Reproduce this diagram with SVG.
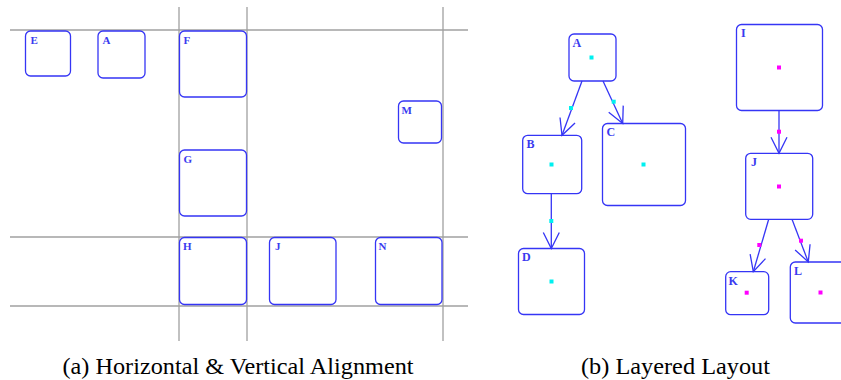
<svg xmlns="http://www.w3.org/2000/svg" width="841" height="380" viewBox="0 0 841 380">
<style>
.grid{stroke:#a0a0a0;stroke-width:1.3;fill:none}
.node{fill:#fff;stroke:#3535f5;stroke-width:1.3}
.lbl{font-family:"Liberation Serif",serif;font-weight:bold;fill:#3a3af0}
.la{font-size:11px}
.lb{font-size:12px}
.edge{stroke:#3535f5;stroke-width:1.3;fill:none;marker-end:url(#arr)}
.cy{fill:#00f0f0}
.mg{fill:#ff00ff}
.cap{font-family:"Liberation Serif",serif;font-size:23px;fill:#000}
</style>
<defs>
<marker id="arr" markerUnits="userSpaceOnUse" markerWidth="20" markerHeight="20" viewBox="-17 -10 19 20" refX="0" refY="0" orient="auto" overflow="visible">
<path d="M-16,-8 L0,0 L-16,8" fill="none" stroke="#3535f5" stroke-width="1.3"/>
</marker>
</defs>
<rect width="841" height="380" fill="#fff"/>
<g id="grid">
<line class="grid" x1="10" y1="30" x2="468" y2="30"/>
<line class="grid" x1="10" y1="237" x2="468" y2="237"/>
<line class="grid" x1="10" y1="306" x2="468" y2="306"/>
<line class="grid" x1="179" y1="7" x2="179" y2="341"/>
<line class="grid" x1="247" y1="7" x2="247" y2="341"/>
<line class="grid" x1="443" y1="7" x2="443" y2="341"/>
</g>
<g id="a-E"><rect class="node" x="25.5" y="31" width="45" height="45" rx="5"/><text class="lbl la" x="30.5" y="43.5">E</text></g>
<g id="a-A"><rect class="node" x="98" y="31" width="47" height="47" rx="5"/><text class="lbl la" x="102.5" y="43.5">A</text></g>
<g id="a-F"><rect class="node" x="179.5" y="31" width="67" height="66" rx="5"/><text class="lbl la" x="183.5" y="43.5">F</text></g>
<g id="a-G"><rect class="node" x="179.5" y="150" width="67" height="66" rx="5"/><text class="lbl la" x="183.5" y="162.5">G</text></g>
<g id="a-M"><rect class="node" x="398.5" y="101" width="43" height="42" rx="5"/><text class="lbl la" x="401.5" y="113.5">M</text></g>
<g id="a-H"><rect class="node" x="179.5" y="237.5" width="67" height="67" rx="5"/><text class="lbl la" x="183" y="250">H</text></g>
<g id="a-J"><rect class="node" x="269.5" y="237.5" width="66.5" height="67" rx="5"/><text class="lbl la" x="275" y="250">J</text></g>
<g id="a-N"><rect class="node" x="375.5" y="237.5" width="66.5" height="67" rx="5"/><text class="lbl la" x="378.5" y="250">N</text></g>

<g id="b-A"><rect class="node" x="569" y="34" width="47" height="47" rx="5"/><text class="lbl lb" x="572.5" y="47">A</text><rect class="cy" x="589.5" y="55.5" width="4" height="4"/></g>
<g id="b-B"><rect class="node" x="522.7" y="135.3" width="59" height="58.4" rx="5"/><text class="lbl lb" x="526.5" y="148">B</text><rect class="cy" x="549.5" y="162.5" width="4" height="4"/></g>
<g id="b-C"><rect class="node" x="602.5" y="123.5" width="83" height="82" rx="5"/><text class="lbl lb" x="606.5" y="136">C</text><rect class="cy" x="641.5" y="162.5" width="4" height="4"/></g>
<g id="b-D"><rect class="node" x="518.5" y="248.5" width="66" height="66" rx="5"/><text class="lbl lb" x="522" y="261">D</text><rect class="cy" x="549.5" y="279.5" width="4" height="4"/></g>
<g id="b-I"><rect class="node" x="736.5" y="24.5" width="86" height="86" rx="5"/><text class="lbl lb" x="741" y="37">I</text><rect class="mg" x="777" y="65.5" width="4" height="4"/></g>
<g id="b-J"><rect class="node" x="745.7" y="153.3" width="67" height="66" rx="5"/><text class="lbl lb" x="751" y="166">J</text><rect class="mg" x="777" y="184.5" width="4" height="4"/></g>
<g id="b-K"><rect class="node" x="725.7" y="271.7" width="43" height="43" rx="5"/><text class="lbl lb" x="728.5" y="284.5">K</text><rect class="mg" x="744.7" y="290.7" width="4" height="4"/></g>
<g id="b-L"><rect class="node" x="790.3" y="262" width="61" height="61" rx="5"/><text class="lbl lb" x="794" y="275">L</text><rect class="mg" x="818.5" y="290.5" width="4" height="4"/></g>

<g id="connectors">
<line class="edge" x1="582" y1="81" x2="562" y2="135.3"/>
<rect class="cy" x="569" y="106" width="4" height="4"/>
<line class="edge" x1="603" y1="81" x2="622.7" y2="123.5"/>
<rect class="cy" x="611.7" y="99.7" width="4" height="4"/>
<line class="edge" x1="551.3" y1="193.7" x2="551.3" y2="248.5"/>
<rect class="cy" x="549.3" y="219" width="4" height="4"/>
<line class="edge" x1="779" y1="110.5" x2="779" y2="153.3"/>
<rect class="mg" x="777" y="129.7" width="4" height="4"/>
<line class="edge" x1="768.7" y1="219.3" x2="753.3" y2="271.7"/>
<rect class="mg" x="757.3" y="243" width="4" height="4"/>
<line class="edge" x1="792" y1="219.3" x2="808.3" y2="262"/>
<rect class="mg" x="799" y="238.7" width="4" height="4"/>
</g>

<text class="cap" x="62.5" y="374" textLength="351" lengthAdjust="spacingAndGlyphs">(a)  Horizontal &amp; Vertical Alignment</text>
<text class="cap" x="581" y="374" textLength="189" lengthAdjust="spacingAndGlyphs">(b)  Layered Layout</text>
</svg>
